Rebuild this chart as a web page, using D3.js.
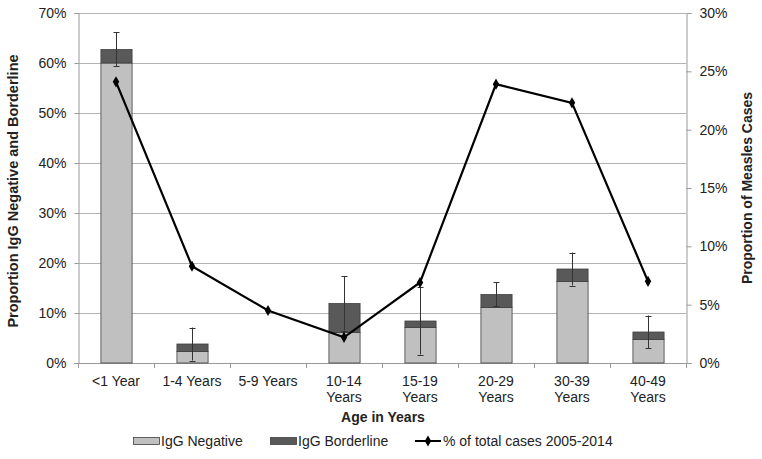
<!DOCTYPE html>
<html><head><meta charset="utf-8">
<script src="https://cdn.jsdelivr.net/npm/d3@7"></script>
<style>body{margin:0;background:#fff}svg{display:block;font-family:"Liberation Sans",Arial,sans-serif}</style>
</head><body><svg id="c" width="762" height="459"></svg>
<script>
const categories = [["<1 Year"],["1-4 Years"],["5-9 Years"],["10-14","Years"],["15-19","Years"],["20-29","Years"],["30-39","Years"],["40-49","Years"]];
const igGNegative   = [60.0, 2.3, 0, 6.1, 7.1, 11.1, 16.3, 4.7];
const igGBorderline = [2.7, 1.5, 0, 5.8, 1.3, 2.6, 2.5, 1.5];
const errUpper = [3.4, 3.3, null, 5.5, 6.7, 2.5, 3.3, 3.3];
const errLower = [3.3, 3.3, null, 5.4, 6.7, 2.4, 3.3, 3.3];
const pctCases = [24.1, 8.3, 4.5, 2.2, 6.9, 23.9, 22.3, 7.0];
const leftTicks = [0,10,20,30,40,50,60,70];
const rightTicks = [0,5,10,15,20,25,30];

const svg = d3.select("#c");
const L = 78, R = 686, T = 13, B = 363;
const x = d3.scaleBand().domain(d3.range(categories.length)).range([L,R]).paddingInner(0.59).paddingOuter(0.295);
const xc = i => x(i) + x.bandwidth()/2;
const yL = d3.scaleLinear().domain([0,70]).range([B,T]);
const yR = d3.scaleLinear().domain([0,30]).range([B,T]);

// gridlines
svg.append("g").selectAll("line").data(leftTicks).join("line")
  .attr("x1",L).attr("x2",R).attr("y1",d=>yL(d)+0.5).attr("y2",d=>yL(d)+0.5)
  .attr("stroke","#b4b4b4").attr("stroke-width",1);

// left axis
const gl = svg.append("g").attr("transform",`translate(${L+0.5},0)`)
  .call(d3.axisLeft(yL).tickValues(leftTicks).tickFormat(d=>d+"%").tickSize(4).tickPadding(8));
gl.select(".domain").attr("stroke","#999");
gl.selectAll(".tick line").attr("stroke","#999");
gl.selectAll("text").attr("font-size",14).attr("fill","#222").attr("font-family","Liberation Sans, Arial, sans-serif");

// right axis
const gr = svg.append("g").attr("transform",`translate(${R+0.5},0)`)
  .call(d3.axisRight(yR).tickValues(rightTicks).tickFormat(d=>d+"%").tickSize(5).tickPadding(8));
gr.select(".domain").attr("stroke","#999");
gr.selectAll(".tick line").attr("stroke","#999");
gr.selectAll("text").attr("font-size",14).attr("fill","#222").attr("font-family","Liberation Sans, Arial, sans-serif");

// bottom axis
svg.append("line").attr("x1",L).attr("x2",R).attr("y1",B+0.5).attr("y2",B+0.5).attr("stroke","#999");
svg.append("g").selectAll("line").data(d3.range(categories.length+1)).join("line")
  .attr("x1",i=>Math.round(L+i*(R-L)/categories.length)+0.5).attr("x2",i=>Math.round(L+i*(R-L)/categories.length)+0.5)
  .attr("y1",B).attr("y2",B+5).attr("stroke","#999");
const lab = svg.append("g").selectAll("text").data(categories).join("text")
  .attr("x",(d,i)=>xc(i)).attr("y",386).attr("text-anchor","middle")
  .attr("font-size",14).attr("fill","#222");
lab.selectAll("tspan").data(d=>d).join("tspan").attr("x",function(){return this.parentNode.getAttribute("x");})
  .attr("dy",(d,j)=>j?16:0).text(d=>d);

// bars
const bars = svg.append("g");
bars.selectAll("rect.neg").data(igGNegative).join("rect").attr("class","neg")
  .attr("x",(d,i)=>x(i)+0.5).attr("width",x.bandwidth())
  .attr("y",d=>yL(d)).attr("height",d=>B-yL(d))
  .attr("fill","#c0c0c0").attr("stroke",d=>d>0?"#404040":"none").attr("stroke-width",0.8);
bars.selectAll("rect.bor").data(igGBorderline).join("rect").attr("class","bor")
  .attr("x",(d,i)=>x(i)+0.5).attr("width",x.bandwidth())
  .attr("y",(d,i)=>yL(igGNegative[i]+d)).attr("height",(d,i)=>yL(igGNegative[i])-yL(igGNegative[i]+d))
  .attr("fill","#595959").attr("stroke",d=>d>0?"#404040":"none").attr("stroke-width",0.8);

// error bars
const eg = svg.append("g").attr("stroke","#333").attr("stroke-width",1);
categories.forEach((c,i)=>{
  if(errUpper[i]==null) return;
  const tot = igGNegative[i]+igGBorderline[i];
  const cx = Math.round(xc(i))+0.5;
  const y1 = yL(tot+errUpper[i]), y2 = yL(tot-errLower[i]);
  eg.append("line").attr("x1",cx).attr("x2",cx).attr("y1",y1).attr("y2",y2);
  eg.append("line").attr("x1",cx-3).attr("x2",cx+3).attr("y1",Math.round(y1)+0.5).attr("y2",Math.round(y1)+0.5);
  eg.append("line").attr("x1",cx-3).attr("x2",cx+3).attr("y1",Math.round(y2)+0.5).attr("y2",Math.round(y2)+0.5);
});

// line
svg.append("path").datum(pctCases)
  .attr("d",d3.line().x((d,i)=>xc(i)).y(d=>yR(d)))
  .attr("fill","none").attr("stroke","#000").attr("stroke-width",2.2);
const diamond = d3.symbol().type(d3.symbolDiamond).size(36);
svg.append("g").selectAll("path").data(pctCases).join("path")
  .attr("transform",(d,i)=>`translate(${xc(i)},${yR(d)})`).attr("d",diamond).attr("fill","#000");

// axis titles
svg.append("text").attr("transform","translate(18,191) rotate(-90)").attr("text-anchor","middle")
  .attr("font-size",14.5).attr("font-weight","bold").attr("fill","#222").text("Proportion IgG Negative and Borderline");
svg.append("text").attr("transform","translate(752,188) rotate(-90)").attr("text-anchor","middle")
  .attr("font-size",14).attr("font-weight","bold").attr("fill","#222").text("Proportion of Measles Cases");
svg.append("text").attr("x",383).attr("y",422).attr("text-anchor","middle")
  .attr("font-size",14).attr("font-weight","bold").attr("fill","#222").text("Age in Years");

// legend
const lg = svg.append("g");
lg.append("rect").attr("x",133.5).attr("y",437.5).attr("width",26).attr("height",7).attr("fill","#c0c0c0").attr("stroke","#404040").attr("stroke-width",0.8);
lg.append("text").attr("x",161).attr("y",446).attr("font-size",14).attr("fill","#222").text("IgG Negative");
lg.append("rect").attr("x",270.5).attr("y",437.5).attr("width",26).attr("height",7).attr("fill","#595959").attr("stroke","#404040").attr("stroke-width",0.8);
lg.append("text").attr("x",298).attr("y",446).attr("font-size",14).attr("fill","#222").text("IgG Borderline");
lg.append("line").attr("x1",415).attr("x2",441).attr("y1",441).attr("y2",441).attr("stroke","#000").attr("stroke-width",2);
lg.append("path").attr("transform","translate(428,441)").attr("d",diamond).attr("fill","#000");
lg.append("text").attr("x",443).attr("y",446).attr("font-size",14).attr("fill","#222").text("% of total cases 2005-2014");
</script></body></html>
